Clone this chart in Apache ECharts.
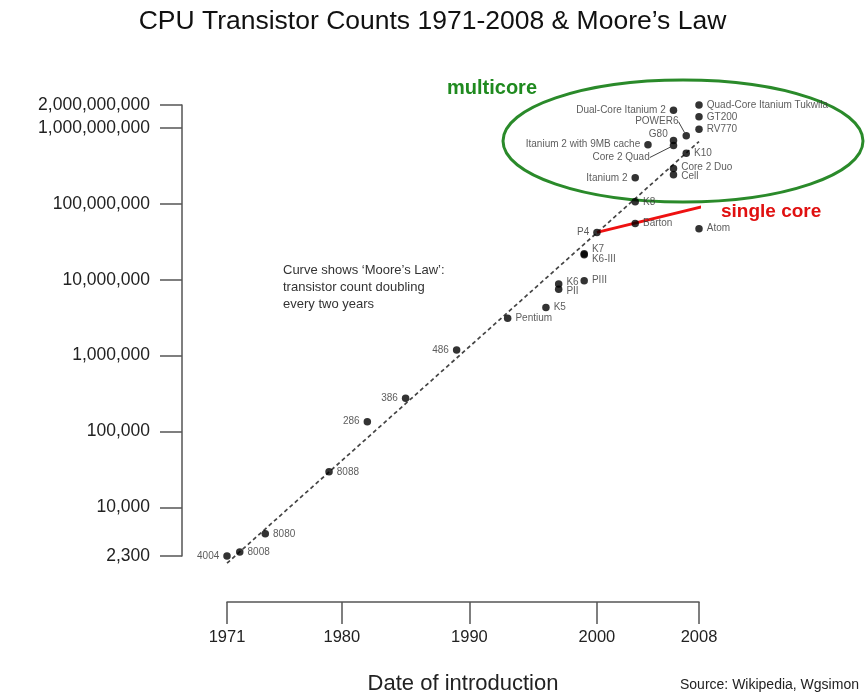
<!DOCTYPE html>
<html>
<head>
<meta charset="utf-8">
<title>CPU Transistor Counts 1971-2008 &amp; Moore's Law</title>
<script src="https://cdn.jsdelivr.net/npm/echarts@6/dist/echarts.min.js"></script>
<style>
  html, body { margin: 0; padding: 0; background: #fff; }
  #main { width: 865px; height: 694px; }
</style>
</head>
<body>
<div id="main"></div>
<script>
  // processors: name, year of introduction, transistor count
  var chipNames = ['4004', '8008', '8080', '8088', '286', '386', '486', 'Pentium', 'K5', 'K6', 'PII', 'PIII', 'K7', 'K6-III',
    'P4', 'Barton', 'K8', 'Atom', 'Itanium 2', 'Cell', 'Core 2 Duo', 'K10', 'Itanium 2 with 9MB cache', 'Core 2 Quad',
    'G80', 'POWER6', 'RV770', 'GT200', 'Dual-Core Itanium 2', 'Quad-Core Itanium Tukwila']
  var chipYears = [1971, 1972, 1974, 1979, 1982, 1985, 1989, 1993, 1996, 1997, 1997, 1999, 1999, 1999,
    2000, 2003, 2003, 2008, 2003, 2006, 2006, 2007, 2004, 2006,
    2006, 2007, 2008, 2008, 2006, 2008]
  var chipCounts = [2300, 2600, 4500, 29500, 135000, 275000, 1190000, 3100000, 4300000, 8800000, 7500000, 9700000, 22000000, 21300000,
    42000000, 55000000, 106000000, 47000000, 220000000, 241000000, 291000000, 463000000, 600000000, 585000000,
    681000000, 789000000, 956000000, 1400000000, 1700000000, 2000000000]

  // Moore's law dashed line (end points) and the 'single core' red line
  var mooreYears = [1971, 2008]
  var mooreCounts = [1850, 660000000]
  var singleYears = [2000, 2009.5]
  var singleCounts = [42000000, 103000000]

  // axis ticks
  var yTicks = [2300, 10000, 100000, 1000000, 10000000, 100000000, 1000000000, 2000000000]
  var xTicks = [1971, 1980, 1990, 2000, 2008]

  // label placement
  var leftLabels = ['4004', '286', '386', '486', 'P4', 'Itanium 2', 'Itanium 2 with 9MB cache', 'Dual-Core Itanium 2', 'G80', 'POWER6', 'Core 2 Quad']
  var labelNudge = {
    'K6': [0, -2], 'PII': [0, 2], 'K7': [0, -4], 'K6-III': [0, 4], 'G80': [2, -6], 'Core 2 Duo': [0, -1], 'Cell': [0, 1],
    'POWER6': [0, -14], 'Core 2 Quad': [-16, 12]
  }
  var withLeader = ['POWER6', 'Core 2 Quad']

  var font = "'Liberation Sans', Arial, Helvetica, sans-serif"

  var chipData = chipNames.map(function (name, i) {
    var item = {
      name: name,
      value: [chipYears[i], chipCounts[i]],
      label: { position: leftLabels.indexOf(name) >= 0 ? 'left' : 'right' }
    }
    if (withLeader.indexOf(name) >= 0) {
      item.labelLine = { show: true, lineStyle: { color: '#444', width: 1 } }
    }
    return item
  })

  var moorePoints = mooreYears.map(function (y, i) { return [y, mooreCounts[i]] })
  var singlePoints = singleYears.map(function (y, i) { return [y, singleCounts[i]] })

  var option = {
    backgroundColor: '#fff',
    animation: false,
    textStyle: { fontFamily: font },
    title: {
      text: 'CPU Transistor Counts 1971-2008 & Moore\u2019s Law',
      left: 'center',
      top: 3,
      textStyle: { fontSize: 26.5, fontWeight: 'normal', color: '#111', fontFamily: font }
    },
    grid: { left: 227, right: 166, top: 105, bottom: 138, outerBoundsMode: 'none', containLabel: false },
    xAxis: {
      type: 'value',
      min: 1971,
      max: 2008,
      offset: 46,
      splitLine: { show: false },
      axisLine: { show: true, lineStyle: { color: '#555', width: 1.5 } },
      axisTick: { show: true, length: 22, customValues: xTicks, lineStyle: { color: '#555', width: 1.5 } },
      axisLabel: {
        customValues: xTicks,
        margin: 27,
        fontSize: 16.5,
        color: '#222',
        fontFamily: font,
        formatter: function (v) { return String(v) }
      },
      name: 'Date of introduction',
      nameLocation: 'middle',
      nameGap: 71,
      nameTextStyle: { fontSize: 22, color: '#222', fontFamily: font }
    },
    yAxis: {
      type: 'log',
      logBase: 10,
      min: 2300,
      max: 2000000000,
      offset: 45,
      splitLine: { show: false },
      axisLine: { show: true, lineStyle: { color: '#555', width: 1.5 } },
      axisTick: { show: true, length: 22, customValues: yTicks, lineStyle: { color: '#555', width: 1.5 } },
      axisLabel: {
        customValues: yTicks,
        margin: 32,
        fontSize: 17.5,
        color: '#222',
        fontFamily: font,
        formatter: function (v) { return Math.round(v).toLocaleString('en-US') }
      },
      name: 'Transistor count',
      nameLocation: 'middle',
      nameRotate: 90,
      nameGap: 198,
      nameTextStyle: { fontSize: 20.5, color: '#222', fontFamily: font }
    },
    series: [
      {
        name: "Moore's Law",
        type: 'line',
        data: moorePoints,
        symbol: 'none',
        clip: false,
        z: 1,
        lineStyle: { color: '#444', width: 1.7, type: [4, 3] }
      },
      {
        name: 'single core',
        type: 'line',
        data: singlePoints,
        symbol: 'none',
        clip: false,
        z: 3,
        lineStyle: { color: '#ee1111', width: 3 }
      },
      {
        name: 'CPUs',
        type: 'scatter',
        data: chipData,
        symbolSize: 7.5,
        clip: false,
        z: 4,
        itemStyle: { color: '#000' },
        label: {
          show: true,
          formatter: '{b}',
          distance: 4,
          fontSize: 10,
          color: '#333',
          fontFamily: font
        },
        labelLayout: function (params) {
          var mv = labelNudge[chipNames[params.dataIndex]]
          if (mv) return { dx: mv[0], dy: mv[1] }
        }
      }
    ],
    graphic: [
      {
        type: 'ellipse',
        shape: { cx: 683, cy: 141, rx: 180, ry: 61 },
        style: { fill: 'none', stroke: '#2a8a2a', lineWidth: 3 },
        z: 0
      },
      {
        type: 'text',
        left: 447,
        top: 78,
        style: { text: 'multicore', fill: '#1f8a1f', font: 'bold 20px ' + font }
      },
      {
        type: 'text',
        left: 721,
        top: 202,
        style: { text: 'single core', fill: '#e01010', font: 'bold 19px ' + font }
      },
      {
        type: 'text',
        left: 283,
        top: 262,
        style: {
          text: 'Curve shows \u2018Moore\u2019s Law\u2019:\ntransistor count doubling\nevery two years',
          fill: '#333',
          font: '13px ' + font,
          lineHeight: 17
        }
      },
      {
        type: 'text',
        left: 680,
        top: 678,
        style: { text: 'Source: Wikipedia, Wgsimon', fill: '#222', font: '14px ' + font }
      }
    ]
  }

  var chart = echarts.init(document.getElementById('main'))
  chart.setOption(option)
  window.addEventListener('resize', function () {
    chart.resize()
  })
</script>
</body>
</html>
